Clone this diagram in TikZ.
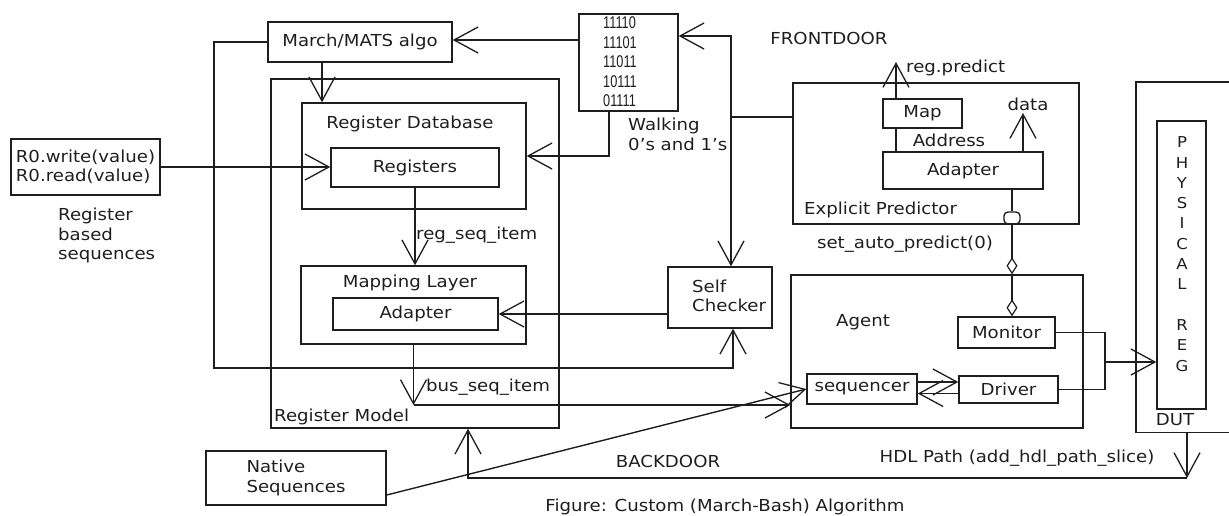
\documentclass[tikz,border=0pt]{standalone}
\usepackage{fontspec}
\setmainfont{DejaVu Sans}[FakeStretch=1.1]
\newfontfamily\digitfont{Liberation Sans}[FakeStretch=0.75]
\usetikzlibrary{arrows.meta,shapes.geometric}
\definecolor{ink}{RGB}{30,30,30}
\newcommand\lblfont{\fontsize{16.5}{19.5}\selectfont}
\tikzset{
  box/.style={draw=ink, line width=1.4pt, inner sep=0pt, font=\lblfont, text=ink},
  lab/.style={inner sep=0pt, font=\lblfont, text=ink},
  wire/.style={draw=ink, line width=1.4pt},
  arr/.style={wire, -{Straight Barb[length=24pt,width=26pt,line width=1.3pt]}},
  dia/.style={wire, -{Diamond[open,length=17pt,width=11pt,line width=1.2pt]}},
}
\begin{document}
\begin{tikzpicture}[x=1pt,y=-1pt]
\useasboundingbox (0,0) rectangle (1229,515);

% ---------- register model side ----------
\node[box, minimum width=184pt, minimum height=40pt] (march) at (360,42) {March/MATS algo};
\node[box, minimum width=288pt, minimum height=349pt] (regmodel) at (415,253.5) {};
\node[lab, anchor=west] (regmodelL) at (274,417) {Register Model};
\node[box, minimum width=224pt, minimum height=106pt] (regdb) at (414,156) {};
\node[lab] (regdbL) at (410,124) {Register Database};
\node[box, minimum width=168pt, minimum height=39pt] (registers) at (415,167.5) {Registers};
\node[box, minimum width=225pt, minimum height=78pt] (mapping) at (413.5,305) {};
\node[lab] (mappingL) at (410,283) {Mapping Layer};
\node[box, minimum width=165pt, minimum height=32pt] (adapterA) at (415.5,314) {Adapter};

\node[box, minimum width=149pt, minimum height=56pt, align=left] (r0) at (85.5,167)
  {R0.write(value)\\R0.read(value)};
\node[lab, anchor=north west, align=left] (regseq) at (58,208)
  {Register\\based\\sequences};

\node[box, minimum width=99pt, minimum height=97pt] (bits) at (628.5,62.5) {};
\node[lab, font=\digitfont\fontsize{17}{19.5}\selectfont, align=left] (bitsT) at (620,62)
  {11110\\11101\\11011\\10111\\01111};
\node[lab, anchor=north west, align=left] (walk) at (628,118) {Walking\\0's and 1's};

\node[box, minimum width=104pt, minimum height=61pt] (selfchk) at (720,297.5) {};
\node[lab, anchor=west, align=left] (selfchkL) at (692,296) {Self\\Checker};
\node[box, minimum width=180pt, minimum height=54pt, align=left] (native) at (296,478)
  {Native\\Sequences};

% ---------- predictor / agent side ----------
\node[lab] (front) at (829,38) {FRONTDOOR};
\node[box, minimum width=286pt, minimum height=141pt] (predictor) at (936,153.5) {};
\node[lab, anchor=west] (predL) at (804,210) {Explicit Predictor};
\node[box, minimum width=79pt, minimum height=29pt] (map) at (922.5,113.5) {Map};
\node[box, minimum width=160pt, minimum height=37pt] (adapterB) at (963,170.5) {Adapter};
\node[lab, anchor=west] (rpL) at (906,68) {reg.predict};
\node[lab] (addrL) at (949,140) {Address};
\node[lab] (dataL) at (1028,104) {data};
\node[box, rounded corners=4pt, minimum width=16pt, minimum height=12pt] (port) at (1012,218) {};
\node[lab] (sapL) at (905,244) {set\_auto\_predict(0)};

\node[box, minimum width=292pt, minimum height=153pt] (agent) at (937,351.5) {};
\node[lab, anchor=west] (agentL) at (836,322) {Agent};
\node[box, minimum width=97pt, minimum height=31pt] (monitor) at (1006.5,332.5) {Monitor};
\node[box, minimum width=110pt, minimum height=30pt] (sequencer) at (862,389) {sequencer};
\node[box, minimum width=99pt, minimum height=27pt] (driver) at (1008.5,389.5) {Driver};

\node[inner sep=0pt, minimum width=100pt, minimum height=350pt] (dut) at (1186,257) {};
\draw[wire] (dut.north east) -- (dut.north west) -- (dut.south west) -- (dut.south east);
\node[lab] (dutL) at (1175,420) {DUT};
\node[box, minimum width=49pt, minimum height=288pt] (phys) at (1181.5,265) {};
\node[lab, font=\fontsize{15}{20.3}\selectfont, align=center] (physT) at (1182,254)
  {P\\H\\Y\\S\\I\\C\\A\\L\\[20.3pt]R\\E\\G};

\node[lab] (hdlL) at (1017,458) {HDL Path (add\_hdl\_path\_slice)};
\node[lab] (backL) at (668,461) {BACKDOOR};
\node[lab] (figL) at (725,507) {Figure: Custom (March-Bash) Algorithm};

\node[lab, anchor=west] (rsiL) at (416,235) {reg\_seq\_item};
\node[lab, anchor=west] (bsiL) at (426,387) {bus\_seq\_item};

% ---------- helper points ----------
\coordinate (loopL) at (214,368);
\coordinate (tap) at (731,117);
\coordinate (fdTop) at (731,36);
\coordinate (bus) at (413.5,405);
\coordinate (hdl) at (1187,478);
\coordinate (bd) at (468,478);
\coordinate (rp) at (896,62);
\coordinate (dt) at (1023,113);
\coordinate (mj) at (1105,362);

% ---------- connectors ----------
\draw[arr] ([xshift=-38pt]march.south) -- ([xshift=-38pt]march.south |- regdb.north);
\draw[arr] (march.west) -| (loopL) -| ([xshift=13pt]selfchk.south);
\draw[arr] (r0.east) -- (r0.east -| registers.west);
\draw[arr] (bits.west |- 0,40) -- (march.east |- 0,40);
\draw[arr] ([xshift=-19.5pt]bits.south) |- (regdb.east);
\draw[wire] (predictor.west |- tap) -- (tap);
\draw[arr] (tap) -- (fdTop) -- (fdTop -| bits.east);
\draw[arr] (tap) -- (tap |- selfchk.north);
\draw[arr] (selfchk.west |- adapterA.east) -- (adapterA.east);
\draw[arr] (registers.south) -- (registers.south |- mapping.north);
\draw[arr] (mapping.south) -- (bus);
\draw[arr] (bus) -- (bus -| agent.west);
\draw[arr] ([yshift=-17pt]native.east) -- (sequencer.west);
\draw[arr] (dut.south -| hdl) -- (hdl);
\draw[arr] (hdl) -- (bd) -- (bd |- regmodel.south);

\draw[arr] (map.north -| rp) -- (rp);
\draw[wire] (map.south -| rp) -- (adapterB.north -| rp);
\draw[arr] (adapterB.north -| dt) -- (dt);
\draw[wire] (adapterB.south -| port) -- (port.north);
\draw[dia] (port.south) -- (port |- agent.north);
\draw[dia] (port |- agent.north) -- (port |- monitor.north);

\draw[arr] ([yshift=7pt]sequencer.east) -- ([yshift=7pt]sequencer.east -| driver.west);
\draw[arr] ([yshift=-4pt]driver.west) -- ([yshift=-4pt]driver.west -| sequencer.east);
\draw[wire] (monitor.east) -| (mj |- driver.east) -- (driver.east);
\draw[arr] (mj) -- (mj -| phys.west);
\end{tikzpicture}
\end{document}
